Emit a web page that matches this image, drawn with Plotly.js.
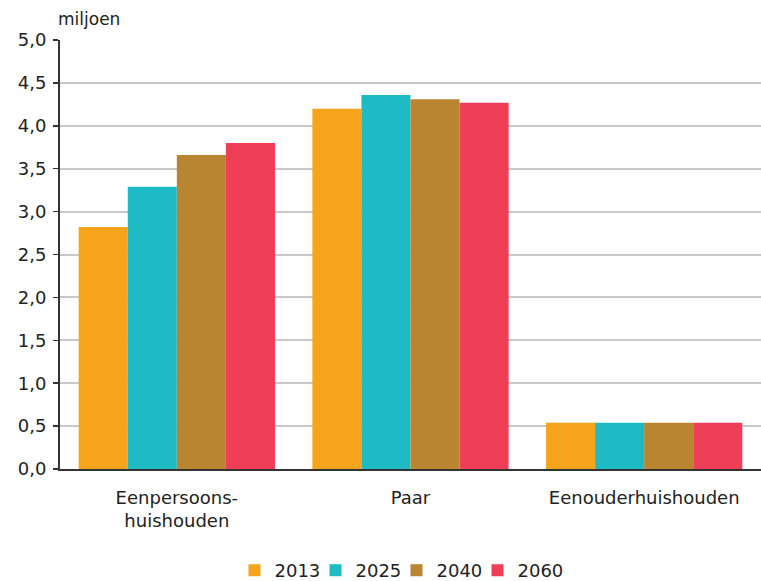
<!DOCTYPE html>
<html><head><meta charset="utf-8">
<script src="https://cdn.plot.ly/plotly-3.0.1.min.js"></script>
<style>body{margin:0;background:#fff}#c{width:761px;height:581px}
#c .legend [clip-path]{clip-path:none !important}</style>
</head><body><div id="c"></div>
<script>
const categories = ["Eenpersoons-<br>huishouden", "Paar", "Eenouderhuishouden"];
const years = ["2013", "2025", "2040", "2060"];
const v2013 = [2.82, 4.20, 0.54];
const v2025 = [3.29, 4.36, 0.54];
const v2040 = [3.66, 4.31, 0.54];
const v2060 = [3.80, 4.27, 0.54];
const yTicks = [0, 0.5, 1, 1.5, 2, 2.5, 3, 3.5, 4, 4.5, 5];
const colors = ["#F7A41D", "#1EBBC4", "#B98530", "#EE3F57"];
const series = [v2013, v2025, v2040, v2060];
const font = "DejaVu Sans, Verdana, sans-serif";
const data = series.map((v, i) => ({
  type: "bar", name: years[i], x: categories, y: v,
  marker: {color: colors[i], line: {width: 0}}, hoverinfo: "none"
}));
const layout = {
  width: 761, height: 581,
  margin: {l: 60, r: 0, t: 40, b: 112},
  paper_bgcolor: "#fff", plot_bgcolor: "#fff",
  separators: ",.",
  font: {family: font, size: 18, color: "#222"},
  barmode: "group", bargap: 0.16, bargroupgap: 0,
  xaxis: {showline: true, linecolor: "#333", linewidth: 2, ticks: "", showgrid: false,
          tickfont: {size: 18, color: "#222"}, ticklabelstandoff: 11},
  yaxis: {range: [0, 5], tickvals: yTicks, tickformat: ".1f", showline: true, linecolor: "#333",
          linewidth: 2, ticks: "outside", ticklen: 5, tickcolor: "#333", tickwidth: 1.5,
          gridcolor: "#c8c8c8", gridwidth: 2, zeroline: false, tickfont: {size: 18, color: "#222"},
          ticklabelstandoff: 3},
  legend: {orientation: "h", x: 0.521, xref: "container", xanchor: "center", y: 0.018, yref: "container", yanchor: "middle",
           font: {size: 18, color: "#222"}, itemwidth: 30, entrywidth: 36, entrywidthmode: "pixels", tracegroupgap: 0},
  showlegend: true,
  annotations: [{text: "miljoen", xref: "paper", yref: "paper", x: -0.005, y: 1.05,
                 xanchor: "left", yanchor: "middle", showarrow: false, font: {size: 17, color: "#222"}}]
};
Plotly.newPlot("c", data, layout, {displayModeBar: false, staticPlot: true});
</script></body></html>
